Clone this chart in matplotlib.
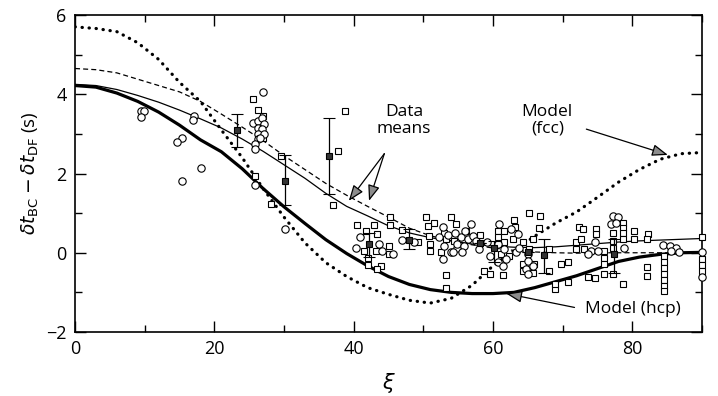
import numpy as np
import matplotlib
matplotlib.use('Agg')
import matplotlib.pyplot as plt

plt.rcParams['font.family'] = ['Open Sans', 'DejaVu Sans']
plt.rcParams['mathtext.fontset'] = 'dejavusans'

# model curves, every 3 degrees
curve_x = [0, 3, 6, 9, 12, 15, 18, 21, 24, 27, 30, 33, 36, 39, 42, 45,
           48, 51, 54, 57, 60, 63, 66, 69, 72, 75, 78, 81, 84, 87, 90]
hcp_y = [4.22, 4.18, 4.03, 3.82, 3.55, 3.22, 2.85, 2.55, 2.12, 1.62, 1.16, 0.74, 0.33, -0.02, -0.33, -0.6,
         -0.8, -0.93, -1.0, -1.03, -1.03, -1.0, -0.88, -0.73, -0.58, -0.4, -0.22, -0.11, -0.04, 0.0, 0.01]
thin_y = [4.25, 4.22, 4.12, 3.97, 3.8, 3.6, 3.38, 3.15, 2.87, 2.56, 2.22, 1.88, 1.5, 1.17, 0.93, 0.68,
          0.5, 0.38, 0.3, 0.22, 0.17, 0.14, 0.13, 0.15, 0.19, 0.23, 0.27, 0.3, 0.32, 0.34, 0.36]
dash_y = [4.65, 4.62, 4.54, 4.38, 4.22, 4.06, 3.82, 3.5, 3.17, 2.83, 2.45, 2.1, 1.75, 1.45, 1.17, 0.9,
          0.62, 0.43, 0.3, 0.2, 0.12, 0.06, 0.02, 0.0, -0.01, 0.0, 0.0, 0.0, 0.0, 0.0, 0.0]
fcc_y = [5.7, 5.66, 5.58, 5.3, 4.88, 4.3, 3.82, 3.1, 2.4, 1.62, 0.9, 0.25, -0.25, -0.6, -0.88, -1.05,
         -1.2, -1.27, -1.15, -0.82, -0.33, 0.05, 0.42, 0.75, 1.03, 1.4, 1.78, 2.1, 2.36, 2.5, 2.53]

# open circles
circ_x = [9.4, 9.9, 9.4, 17.1, 17.0, 15.3, 14.7, 18.1, 15.4, 27.0,
          25.6, 26.3, 26.9, 27.1, 26.2, 26.9, 26.2, 27.1, 26.2, 25.9, 25.8, 26.6, 25.8, 30.1,
          40.9, 40.3, 43.6, 44.1, 45.7, 46.9, 48.7, 52.8, 53.0, 52.8, 54.0, 54.9, 52.3,
          56.8, 55.4, 56.4, 54.9, 55.9, 57.1, 54.2, 55.6, 59.2, 60.9, 62.6, 63.6, 60.7, 61.6,
          63.3, 63.8, 60.7, 61.4, 61.9, 65.0, 65.0, 64.7, 65.7, 65.0, 59.5,
          53.5, 56.0, 57.5, 58.0, 54.5,
          77.2, 77.9, 76.9, 77.7, 78.8, 74.6, 74.1, 75.1, 73.6, 84.4, 85.4, 86.3, 85.6, 86.7, 90.0, 90.0]
circ_y = [3.58, 3.58, 3.43, 3.46, 3.35, 2.9, 2.8, 2.14, 1.82, 4.06,
          3.28, 3.33, 3.4, 3.25, 3.15, 3.13, 3.0, 3.0, 2.88, 2.75, 2.62, 2.9, 1.72, 0.6,
          0.39, 0.13, 0.23, 0.05, -0.02, 0.32, 0.26, 0.64, 0.18, -0.16, 0.01, 0.13, 0.39,
          0.72, 0.39, 0.35, 0.22, 0.18, 0.43, 0.01, 0.01, 0.26, 0.72, 0.6, 0.47, 0.22, 0.09,
          0.01, 0.13, -0.24, -0.33, -0.16, -0.03, -0.2, -0.41, -0.33, -0.54, -0.08,
          0.45, 0.55, 0.3, 0.1, 0.5,
          0.93, 0.89, 0.72, 0.76, 0.13, 0.26, 0.05, 0.05, -0.03, 0.2, 0.16, 0.13, 0.05, 0.01, 0.01, -0.6]

# open squares
sq_x = [25.5, 26.2, 27.0, 27.0, 29.5, 25.9, 28.1, 37.0, 38.8, 37.7,
        45.2, 40.5, 42.9, 41.8, 43.4, 45.2, 47.0, 50.4, 51.6, 54.0, 50.6, 53.0, 50.8, 49.2,
        50.9, 50.9, 52.5, 53.2, 54.4, 41.5, 43.2, 45.1, 45.1, 42.0, 42.1, 43.9, 43.4, 53.2, 53.2,
        65.1, 66.7, 63.0, 66.6, 54.7, 56.1, 58.2, 60.7, 61.6, 63.1, 60.7, 61.6, 62.8, 64.3,
        65.7, 65.2, 61.2, 62.3, 64.3, 65.9, 64.3, 65.7, 58.7, 59.5, 61.4, 68.1, 68.1, 69.8,
        70.8, 70.7, 68.9, 68.9, 71.9, 71.9, 72.4,
        72.9, 74.8, 74.8, 72.7, 73.1, 76.0, 76.0, 76.0, 77.2, 77.2, 77.2, 77.2, 76.0, 73.6,
        74.7, 78.7, 78.7, 78.7, 78.7, 78.7, 80.2, 80.2, 82.2, 82.1, 82.1, 82.1,
        84.6, 84.6, 84.6, 84.6, 84.6, 84.6, 84.6,
        90.0, 90.0, 90.0, 90.0]
sq_y = [3.88, 3.6, 3.45, 2.9, 2.45, 1.94, 1.24, 1.21, 3.58, 2.57,
        0.89, 0.7, 0.7, 0.55, 0.47, 0.7, 0.57, 0.89, 0.76, 0.89, 0.68, 0.51, 0.43, 0.28,
        0.22, 0.05, 0.01, 0.35, 0.3, 0.05, 0.05, 0.18, -0.02, -0.13, -0.31, -0.33, -0.41, -0.56, -0.89,
        1.0, 0.93, 0.82, 0.62, 0.72, 0.55, 0.45, 0.55, 0.55, 0.64, 0.39, 0.26, 0.35, 0.26,
        0.35, 0.09, -0.03, -0.08, -0.29, -0.29, -0.45, -0.5, -0.45, -0.54, -0.55, -0.45, 0.09, -0.29,
        -0.24, -0.75, -0.92, -0.79, 0.26, 0.09, 0.64,
        0.61, 0.6, 0.47, 0.35, 0.09, 0.05, -0.12, -0.29, 0.3, 0.13, 0.51, -0.54, -0.54, -0.62,
        -0.64, -0.79, 0.76, 0.62, 0.49, 0.35, 0.55, 0.35, 0.47, 0.35, -0.37, -0.58,
        -0.08, -0.23, -0.38, -0.53, -0.68, -0.83, -0.96,
        0.39, -0.15, -0.3, -0.45]

# data means with error bars
mean_x = [23.2, 30.1, 36.4, 42.2, 47.9, 58.1, 60.1, 65.0, 67.3, 77.3]
mean_y = [3.1, 1.82, 2.45, 0.22, 0.33, 0.25, 0.13, 0.03, -0.05, -0.02]
mean_lo = [2.67, 1.21, 1.49, -0.1, 0.1, 0.25, -0.23, 0.03, -0.5, -0.5]
mean_hi = [3.5, 2.47, 3.41, 0.5, 0.6, 0.25, 0.3, 0.03, 0.35, 0.35]

fig = plt.figure(figsize=(7.18, 3.96), dpi=100)
ax = fig.add_axes([0.1045, 0.1616, 0.8732, 0.8005])

ax.plot(curve_x, fcc_y, color='black', lw=2.3, linestyle=(0, (0.1, 2.1)),
        dash_capstyle='round', zorder=3)
ax.plot(curve_x, hcp_y, color='black', lw=2.3, zorder=3)
ax.plot(curve_x, thin_y, color='black', lw=0.9, zorder=3)
ax.plot(curve_x, dash_y, color='black', lw=0.9, linestyle=(0, (4, 2.5)), zorder=3)

ax.plot(sq_x, sq_y, 's', ms=4.8, mfc='white', mec='black', mew=0.8, clip_on=False, zorder=4)
ax.plot(circ_x, circ_y, 'o', ms=5.3, mfc='white', mec='black', mew=0.8, clip_on=False, zorder=4)

yerr = [np.array(mean_y) - np.array(mean_lo), np.array(mean_hi) - np.array(mean_y)]
ax.errorbar(mean_x, mean_y, yerr=yerr, fmt='s', ms=4.8, mfc='0.2', mec='black', mew=0.8,
            ecolor='black', elinewidth=0.9, capsize=4, capthick=0.9, zorder=5)

arrow = dict(arrowstyle='-|>,head_length=0.8,head_width=0.3', color='black', lw=0.9,
             mutation_scale=12, shrinkA=0, shrinkB=0, fc='0.55', ec='black')
ax.text(47.2, 3.34, 'Data\nmeans', ha='center', va='center', fontsize=12.5, linespacing=1.05)
for head in [(39.3, 1.31), (42.2, 1.31)]:
    ax.annotate('', xy=head, xytext=(44.4, 2.5), arrowprops=arrow)
ax.text(67.8, 3.34, 'Model\n(fcc)', ha='center', va='center', fontsize=12.5, linespacing=1.05)
ax.annotate('', xy=(85.1, 2.47), xytext=(73.4, 3.12), arrowprops=arrow)
ax.text(80.1, -1.41, 'Model (hcp)', ha='center', va='center', fontsize=12.5)
ax.annotate('', xy=(61.9, -1.03), xytext=(71.7, -1.38), arrowprops=arrow)

ax.set_xlim(0, 90)
ax.set_ylim(-2, 6)
ax.set_xticks([0, 20, 40, 60, 80])
ax.set_xticks([10, 30, 50, 70, 90], minor=True)
ax.set_yticks([-2, 0, 2, 4, 6])
ax.set_yticks([-1, 1, 3, 5], minor=True)
ax.tick_params(which='both', direction='in', top=True, right=True, width=1, labelsize=13, pad=6)
ax.tick_params(which='major', length=8)
ax.tick_params(which='minor', length=5)
for s in ax.spines.values():
    s.set_linewidth(1.2)

ax.set_xlabel(r'$\xi$', fontsize=15, labelpad=9)
ax.set_ylabel(r'$\delta t_{\rm BC} - \delta t_{\rm DF}$ (s)', fontsize=13.5, labelpad=4)

fig.savefig('out.png', dpi=100)
